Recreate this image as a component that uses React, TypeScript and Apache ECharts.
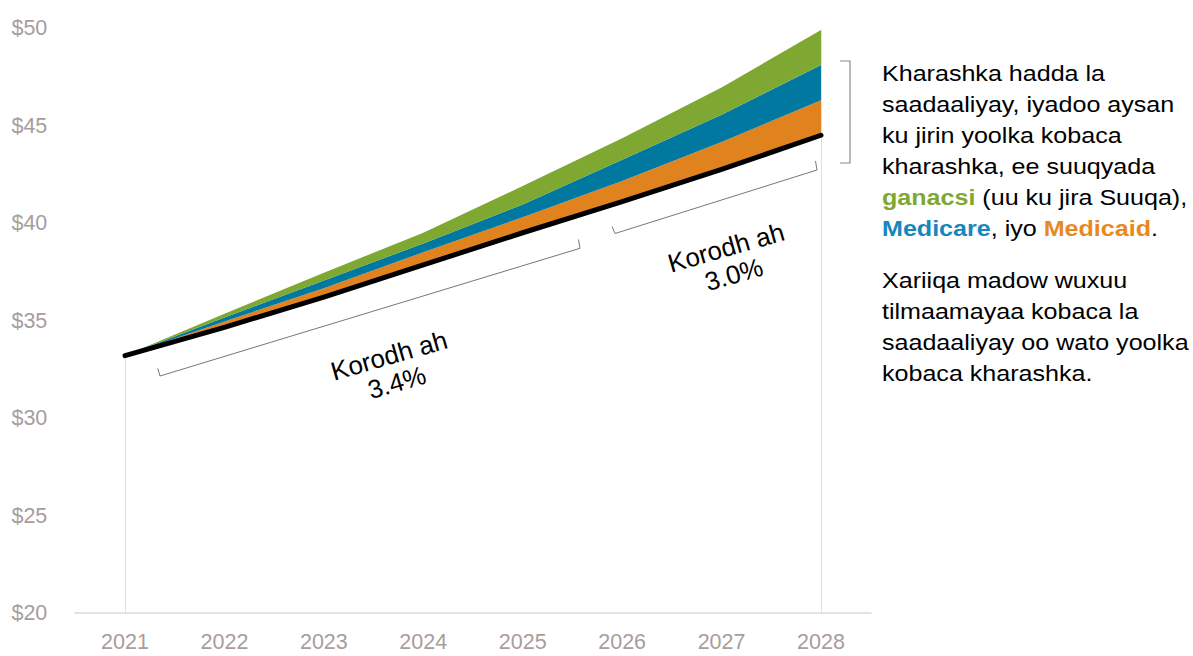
import React, { useEffect, useRef } from "react";
import * as echarts from "echarts";

const years = ["2021", "2022", "2023", "2024", "2025", "2026", "2027", "2028"];
// Projected spending with the cost growth goal (black line)
const withGoal = [33.2, 34.65, 36.2, 37.85, 39.5, 41.1, 42.75, 44.5];
// Top edge of each band (projected spending without the goal)
const medicaidTop = [33.2, 34.95, 36.65, 38.5, 40.3, 42.15, 44.15, 46.3];
const medicareTop = [33.2, 35.15, 37.05, 38.95, 40.95, 43.25, 45.55, 48.1];
const commercialTop = [33.2, 35.35, 37.45, 39.5, 41.9, 44.35, 46.95, 49.9];
const yMin = 20;
const yMax = 50;
const yStep = 5;

const GREEN = "#7ea831";
const BLUE = "#00789f";
const ORANGE = "#e0821e";
const AXIS_TEXT = "#a89c9c";
const FONT = "Liberation Sans";

const diff = (a: number[], b: number[]) => a.map((v, i) => +(v - b[i]).toFixed(4));

export default function App() {
  const ref = useRef<HTMLDivElement>(null);

  useEffect(() => {
    if (!ref.current) return;
    const chart = echarts.init(ref.current, null, { renderer: "svg" });
    const bandSeries = (name: string, data: number[], color: string) => ({
      name,
      type: "line",
      stack: "total",
      data,
      symbol: "none",
      showSymbol: false,
      silent: true,
      lineStyle: { width: 0, color },
      itemStyle: { color },
      areaStyle: { color, opacity: 1 },
    });

    chart.setOption({
      animation: false,
      backgroundColor: "#ffffff",
      grid: { left: 75.3, right: 322.3, top: 28, bottom: 43, containLabel: false },
      xAxis: {
        type: "category",
        data: years,
        boundaryGap: true,
        axisLine: { lineStyle: { color: "#e3e3e3", width: 2 } },
        axisTick: { show: false },
        axisLabel: { color: AXIS_TEXT, fontSize: 21.5, fontFamily: FONT, margin: 18 },
        splitLine: { show: false },
      },
      yAxis: {
        type: "value",
        min: yMin,
        max: yMax,
        interval: yStep,
        axisLine: { show: false },
        axisTick: { show: false },
        splitLine: { show: false },
        axisLabel: {
          color: AXIS_TEXT,
          fontSize: 21.5,
          fontFamily: FONT,
          margin: 28,
          formatter: (v: number) => "$" + v,
        },
      },
      series: [
        {
          name: "base",
          type: "line",
          stack: "total",
          data: withGoal,
          symbol: "none",
          showSymbol: false,
          silent: true,
          lineStyle: { width: 0, opacity: 0 },
          markLine: {
            silent: true,
            symbol: "none",
            label: { show: false },
            lineStyle: { color: "#e4ddd3", width: 1, type: "solid" },
            data: [
              [
                { coord: [years[0], yMin] },
                { coord: [years[0], withGoal[0]] },
              ],
              [
                { coord: [years[years.length - 1], yMin] },
                { coord: [years[years.length - 1], commercialTop[commercialTop.length - 1]] },
              ],
            ],
          },
        },
        bandSeries("Medicaid", diff(medicaidTop, withGoal), ORANGE),
        bandSeries("Medicare", diff(medicareTop, medicaidTop), BLUE),
        bandSeries("Commercial", diff(commercialTop, medicareTop), GREEN),
        {
          name: "With goal",
          type: "line",
          data: withGoal,
          symbol: "none",
          showSymbol: false,
          silent: true,
          z: 10,
          lineStyle: { color: "#000000", width: 5, cap: "round", join: "round" },
        },
      ],
      graphic: [
        {
          type: "polyline",
          silent: true,
          shape: { points: [[157.7, 368.3], [160, 376], [580, 248.3], [578.5, 239.5]] },
          style: { stroke: "#777777", lineWidth: 1, fill: "none" },
        },
        {
          type: "polyline",
          silent: true,
          shape: { points: [[612, 226.5], [615, 233.5], [817, 170], [815.5, 161]] },
          style: { stroke: "#777777", lineWidth: 1, fill: "none" },
        },
        {
          type: "polyline",
          silent: true,
          shape: { points: [[840, 61], [850, 61], [850, 163], [840, 163]] },
          style: { stroke: "#8a8a8a", lineWidth: 1.2, fill: "none" },
        },
        {
          type: "text",
          silent: true,
          x: 393,
          y: 369,
          rotation: 0.28,
          style: {
            text: "Korodh ah\n3.4%",
            align: "center",
            verticalAlign: "middle",
            fontSize: 26,
            fontFamily: FONT,
            lineHeight: 28,
            fill: "#000000",
          },
        },
        {
          type: "text",
          silent: true,
          x: 730,
          y: 261,
          rotation: 0.28,
          style: {
            text: "Korodh ah\n3.0%",
            align: "center",
            verticalAlign: "middle",
            fontSize: 26,
            fontFamily: FONT,
            lineHeight: 28,
            fill: "#000000",
          },
        },
        {
          type: "text",
          silent: true,
          x: 882,
          y: 58,
          scaleX: 1.14,
          style: {
            text:
              "{n|Kharashka hadda la}\n{n|saadaaliyay, iyadoo aysan}\n{n|ku jirin yoolka kobaca}\n{n|kharashka, ee suuqyada}\n{g|ganacsi}{n| (uu ku jira Suuqa),}\n{b|Medicare}{n|, iyo }{o|Medicaid}{n|.}",
            align: "left",
            verticalAlign: "top",
            fontSize: 22,
            fontFamily: FONT,
            lineHeight: 31,
            fill: "#000000",
            rich: {
              n: { fontSize: 22, fontFamily: FONT, lineHeight: 31, fill: "#000000" },
              g: { fontSize: 22, fontFamily: FONT, lineHeight: 31, fontWeight: "bold", fill: GREEN },
              b: { fontSize: 22, fontFamily: FONT, lineHeight: 31, fontWeight: "bold", fill: "#1787bd" },
              o: { fontSize: 22, fontFamily: FONT, lineHeight: 31, fontWeight: "bold", fill: "#e8891f" },
            },
          },
        },
        {
          type: "text",
          silent: true,
          x: 882,
          y: 265,
          scaleX: 1.14,
          style: {
            text: "Xariiqa madow wuxuu\ntilmaamayaa kobaca la\nsaadaaliyay oo wato yoolka\nkobaca kharashka.",
            align: "left",
            verticalAlign: "top",
            fontSize: 22,
            fontFamily: FONT,
            lineHeight: 31,
            fill: "#000000",
          },
        },
      ],
    });
    return () => chart.dispose();
  }, []);

  return (
    <div
      ref={ref}
      style={{ position: "fixed", left: 0, top: 0, width: "1193px", height: "656px" }}
    />
  );
}
